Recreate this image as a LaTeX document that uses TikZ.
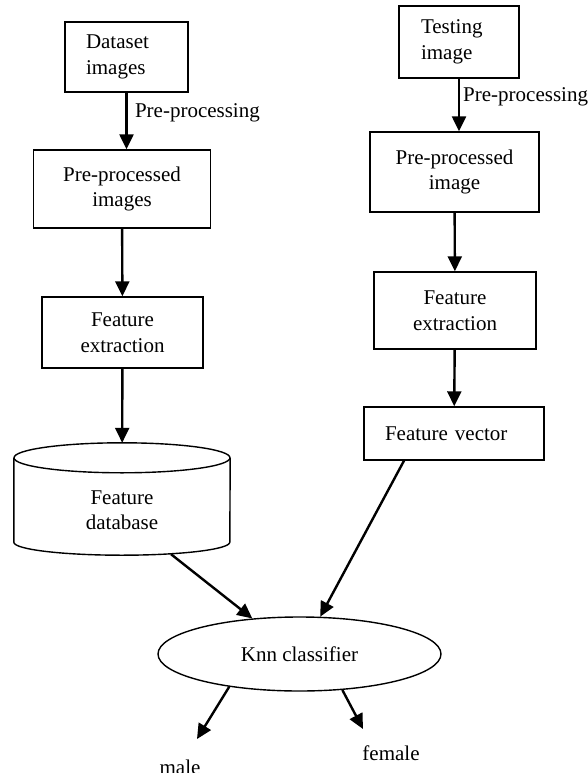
\documentclass[tikz,border=0pt]{standalone}
\usepackage{fontspec}
\setmainfont{Liberation Serif}
\usetikzlibrary{shapes.geometric, arrows.meta, calc, positioning}
\tikzstyle{box} = [rectangle, align=center, draw=black, line width=1.4pt, inner sep=0pt]
\tikzstyle{lbox} = [box, align=left, inner xsep=21pt]
\tikzstyle{arrow} = [line width=2.4pt, -{Triangle[length=15pt,width=14pt]}]

\begin{document}
\begin{tikzpicture}[x=1pt, y=-1pt, font=\fontsize{21}{25.5}\selectfont]
	\useasboundingbox (0,0) rectangle (587,773);
	% training side
	\node (data) [lbox, text width=81pt, minimum height=70pt] at (126.5,57) {Dataset\\images};
	\node (preimgs) [box, minimum width=177pt, minimum height=78pt] at (122,189) {Pre-processed\\images};
	\node (featl) [box, minimum width=161pt, minimum height=71pt] at (122.5,332.5) {Feature\\extraction};
	\node (fdb) [rectangle, inner sep=0pt, minimum width=216pt, minimum height=112pt,
		label={[align=center, yshift=-11pt]center:Feature\\database}] at (122,499) {};
	% database drum
	\draw[line width=1.4pt] ($(fdb.north)+(0,15)$) ellipse [x radius=108, y radius=15];
	\draw[line width=1.4pt] ($(fdb.north west)+(0,15)$) -- ($(fdb.south west)+(0,-13)$)
		arc[start angle=180, end angle=0, x radius=108, y radius=13] -- ($(fdb.north east)+(0,15)$);
	% testing side
	\node (test) [lbox, inner xsep=22pt, text width=76pt, minimum height=72pt] at (459,42) {Testing\\image};
	\node (preimg) [box, minimum width=169pt, minimum height=80pt] at (454.5,172) {Pre-processed\\image};
	\node (featr) [box, minimum width=162pt, minimum height=77pt] at (455,310.5) {Feature\\extraction};
	\node (fv) [lbox, text width=138pt, minimum height=53pt] at (454,433.5) {Feature vector};
	% classifier
	\node (knn) [ellipse, draw=black, line width=1.4pt, minimum width=283pt, minimum height=74pt] at (299.5,654) {Knn classifier};
	\node (male) at (180,767) {male};
	\node (female) at (391,753) {female};
	\coordinate (maletip) at (197,739);
	\coordinate (femtip) at (363,729);

	\draw[arrow] (data.south) -- node[right, pos=0.35, xshift=4pt]{Pre-processing} (data.south |- preimgs.north);
	\draw[arrow] (preimgs) -- (featl);
	\draw[arrow] (featl) -- (fdb);
	\draw[arrow] (test.south) -- node[right, pos=0.35, inner sep=1pt, xshift=2pt]{Pre-processing} (test.south |- preimg.north);
	\draw[arrow] (preimg) -- (featr);
	\draw[arrow] (featr) -- (fv);
	\draw[arrow] ($(fdb.south)+(49,-1)$) -- (knn.143);
	\draw[arrow] ($(fv.south)+(-50,0)$) -- (knn.61);
	\draw[arrow] (knn.205) -- (maletip);
	\draw[arrow] (knn.-40) -- (femtip);
\end{tikzpicture}
\end{document}
